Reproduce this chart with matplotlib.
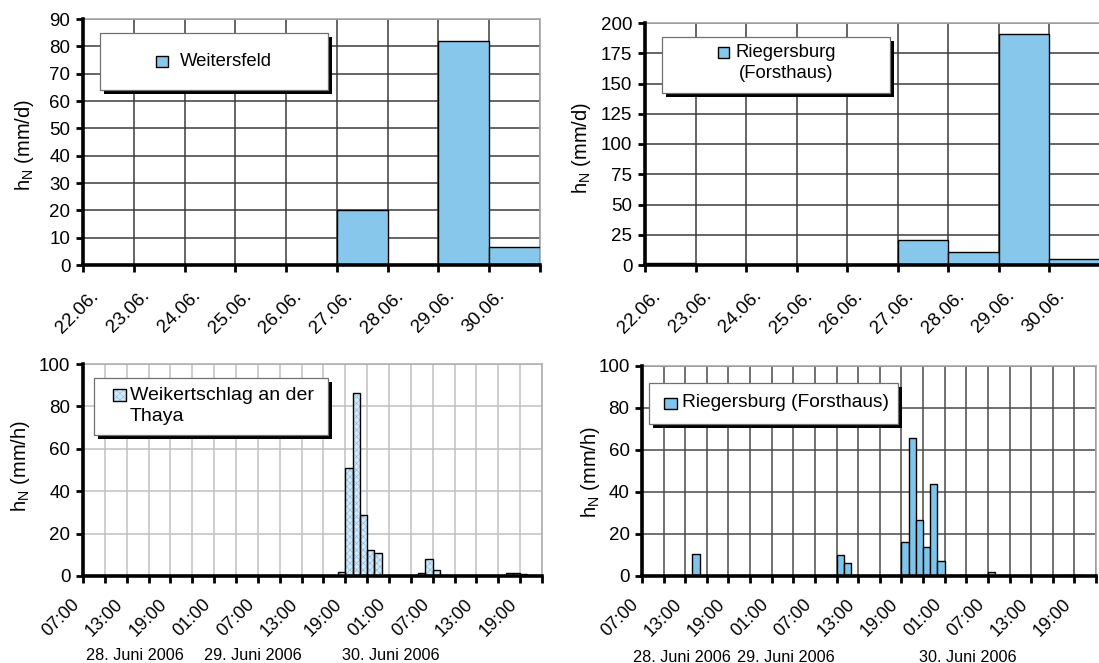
import matplotlib
matplotlib.use('Agg')
import matplotlib.pyplot as plt
from matplotlib.patches import Rectangle
import numpy as np

plt.rcParams['font.family'] = ['Liberation Sans', 'DejaVu Sans']
plt.rcParams['hatch.linewidth'] = 0.4

# ---------------- data ----------------
days = ['22.06.', '23.06.', '24.06.', '25.06.', '26.06.', '27.06.', '28.06.', '29.06.', '30.06.']
weitersfeld_daily = [0, 0, 0, 0, 0, 20, 0, 82, 6.5]
riegersburg_daily = [2, 0, 0, 0, 0, 20.5, 10.5, 191, 5]

hour_labels = ['07:00', '13:00', '19:00', '01:00', '07:00', '13:00', '19:00',
               '01:00', '07:00', '13:00', '19:00']
n_hours = 63  # hourly categories from 28.06. 07:00
weik_hour_idx = [27, 35, 36, 37, 38, 39, 40, 46, 47, 48, 58, 59, 60]
weik_values = [0.7, 2, 51, 86.5, 29, 12.5, 11, 1.5, 8, 3, 1.2, 1.2, 0.8]
rieg_hour_idx = [7, 27, 28, 36, 37, 38, 39, 40, 41, 44, 48, 58, 59, 60]
rieg_values = [10.5, 10, 6, 16, 65.5, 26.5, 14, 44, 7, 0.3, 1.8, 0.4, 0.4, 0.4]

date_labels = ['28. Juni 2006', '29. Juni 2006', '30. Juni 2006']

# ---------------- styling ----------------
W, H = 1099, 663
fig = plt.figure(figsize=(W / 100, H / 100), dpi=100)
fig.patch.set_facecolor('white')

C_DAY = '#87C7EC'
C_WEIK = '#D2E9F9'
C_WEIK_HATCH = '#8DB9DD'
C_RIEG_H = '#7FC4EB'


def add_ax(l, r, t, b):
    return fig.add_axes([l / W, 1 - b / H, (r - l) / W, (b - t) / H])


def style(ax, grid_color, border_color):
    ax.set_axisbelow(True)
    ax.grid(True, which='major', color=grid_color, lw=1.1)
    for s in ('left', 'bottom'):
        ax.spines[s].set_color('black')
        ax.spines[s].set_linewidth(2.6)
        ax.spines[s].set_zorder(6)
    for s in ('top', 'right'):
        ax.spines[s].set_color(border_color)
        ax.spines[s].set_linewidth(1.2)
    ax.tick_params(axis='both', which='major', direction='out', length=5,
                   width=2, color='black', labelsize=13.5)
    ax.tick_params(axis='y', pad=4)


def legend_box(box, marker, text, tx, ty, ha, facecolor, hatch=None,
               hatchcolor=None, fontsize=13.5):
    l, t, r, b = box
    tr = fig.transFigure
    fig.add_artist(Rectangle((l / W + 4 / W, 1 - (b + 4) / H), (r - l) / W, (b - t) / H,
                             transform=tr, facecolor='black', edgecolor='none', zorder=10))
    fig.add_artist(Rectangle((l / W, 1 - b / H), (r - l) / W, (b - t) / H,
                             transform=tr, facecolor='white', edgecolor='#707070',
                             lw=0.9, zorder=11))
    ml, mt, mr, mb = marker
    if hatch:
        fig.add_artist(Rectangle((ml / W, 1 - mb / H), (mr - ml) / W, (mb - mt) / H,
                                 transform=tr, facecolor=facecolor, edgecolor=hatchcolor,
                                 hatch=hatch, lw=0, zorder=12))
        fig.add_artist(Rectangle((ml / W, 1 - mb / H), (mr - ml) / W, (mb - mt) / H,
                                 transform=tr, fill=False, edgecolor='black', lw=1, zorder=13))
    else:
        fig.add_artist(Rectangle((ml / W, 1 - mb / H), (mr - ml) / W, (mb - mt) / H,
                                 transform=tr, facecolor=facecolor, edgecolor='black',
                                 lw=1, zorder=12))
    fig.text(tx / W, 1 - ty / H, text, ha=ha, va='center', fontsize=fontsize,
             multialignment=ha, zorder=13, linespacing=1.25)


def daily_axis(ax):
    ax.set_xlim(0, len(days))
    ax.set_xticks(np.arange(len(days) + 1))
    ax.set_xticklabels([])
    ax.set_xticks(np.arange(len(days)) + 0.38, days, minor=True)
    ax.tick_params(axis='x', which='minor', length=0, pad=16, labelsize=13.5,
                   labelrotation=45)
    for lbl in ax.get_xticklabels(minor=True):
        lbl.set_horizontalalignment('right')
        lbl.set_verticalalignment('top')


def hourly_axis(ax):
    ax.set_xlim(0, n_hours)
    ticks = np.arange(0, n_hours + 1, 3)
    labels = [hour_labels[k // 2] if (k % 2 == 0 and k // 2 < len(hour_labels)) else ''
              for k in range(len(ticks))]
    ax.set_xticks(ticks, labels)
    ax.tick_params(axis='x', which='major', pad=9, labelsize=13, labelrotation=45)
    for lbl in ax.get_xticklabels():
        lbl.set_horizontalalignment('right')
        lbl.set_verticalalignment('top')


ylab_d = 'h$_{\\mathregular{N}}$ (mm/d)'
ylab_h = 'h$_{\\mathregular{N}}$ (mm/h)'

# ---------- top-left: Weitersfeld daily ----------
ax1 = add_ax(83, 540, 19, 265)
style(ax1, '#3C3C3C', '#A8A8A8')
ax1.bar(np.arange(len(days)), weitersfeld_daily, width=1, align='edge',
        color=C_DAY, edgecolor='black', linewidth=1, zorder=3)
ax1.set_ylim(0, 90)
ax1.set_yticks(np.arange(0, 91, 10))
daily_axis(ax1)
fig.text(24 / W, 1 - 145 / H, ylab_d, rotation=90, ha='center', va='center', fontsize=14.5)
legend_box((100, 33, 328, 90), (156, 56, 168, 67), 'Weitersfeld', 180, 61,
           'left', C_DAY, fontsize=13.3)

# ---------- top-right: Riegersburg daily ----------
ax2 = add_ax(645, 1100, 23, 265)
style(ax2, '#3C3C3C', '#A8A8A8')
ax2.bar(np.arange(len(days)), riegersburg_daily, width=1, align='edge',
        color=C_DAY, edgecolor='black', linewidth=1, zorder=3)
ax2.set_ylim(0, 200)
ax2.set_yticks(np.arange(0, 201, 25))
daily_axis(ax2)
fig.text(582 / W, 1 - 148 / H, ylab_d, rotation=90, ha='center', va='center', fontsize=14.5)
legend_box((662, 37, 890, 93), (718, 47, 729, 58), 'Riegersburg\n(Forsthaus)',
           786, 63, 'center', C_DAY, fontsize=13.3)

# ---------- bottom-left: Weikertschlag hourly ----------
ax3 = add_ax(83, 542, 364, 576)
style(ax3, '#C0C0C0', '#B0B0B0')
ax3.bar(weik_hour_idx, weik_values, width=1, align='edge', color=C_WEIK,
        edgecolor=C_WEIK_HATCH, hatch='xxxxx', linewidth=0, zorder=3)
ax3.bar(weik_hour_idx, weik_values, width=1, align='edge', fill=False,
        edgecolor='black', linewidth=1, zorder=4)
ax3.set_ylim(0, 100)
ax3.set_yticks(np.arange(0, 101, 20))
hourly_axis(ax3)
fig.text(21 / W, 1 - 466 / H, ylab_h, rotation=90, ha='center', va='center', fontsize=14.5)
legend_box((94, 378, 328, 435), (113, 389, 126, 401), 'Weikertschlag an der\nThaya',
           130, 406, 'left', C_WEIK, hatch='xxxxx', hatchcolor=C_WEIK_HATCH, fontsize=14)
for txt, xc in zip(date_labels, [135, 253, 391]):
    fig.text(xc / W, 1 - 656 / H, txt, ha='center', va='center', fontsize=11.7)

# ---------- bottom-right: Riegersburg hourly ----------
ax4 = add_ax(642, 1096, 366, 576)
style(ax4, '#4A4A4A', '#A8A8A8')
ax4.bar(rieg_hour_idx, rieg_values, width=1, align='edge', color=C_RIEG_H,
        edgecolor='black', linewidth=1, zorder=3)
ax4.set_ylim(0, 100)
ax4.set_yticks(np.arange(0, 101, 20))
hourly_axis(ax4)
fig.text(590 / W, 1 - 472 / H, ylab_h, rotation=90, ha='center', va='center', fontsize=14.5)
legend_box((649, 383, 898, 424), (664, 398, 677, 409), 'Riegersburg (Forsthaus)',
           682, 403, 'left', C_RIEG_H, fontsize=13.8)
for txt, xc in zip(date_labels, [682, 786, 968]):
    fig.text(xc / W, 1 - 657 / H, txt, ha='center', va='center', fontsize=11.7)

fig.savefig('out.png', dpi=100, facecolor='white')
